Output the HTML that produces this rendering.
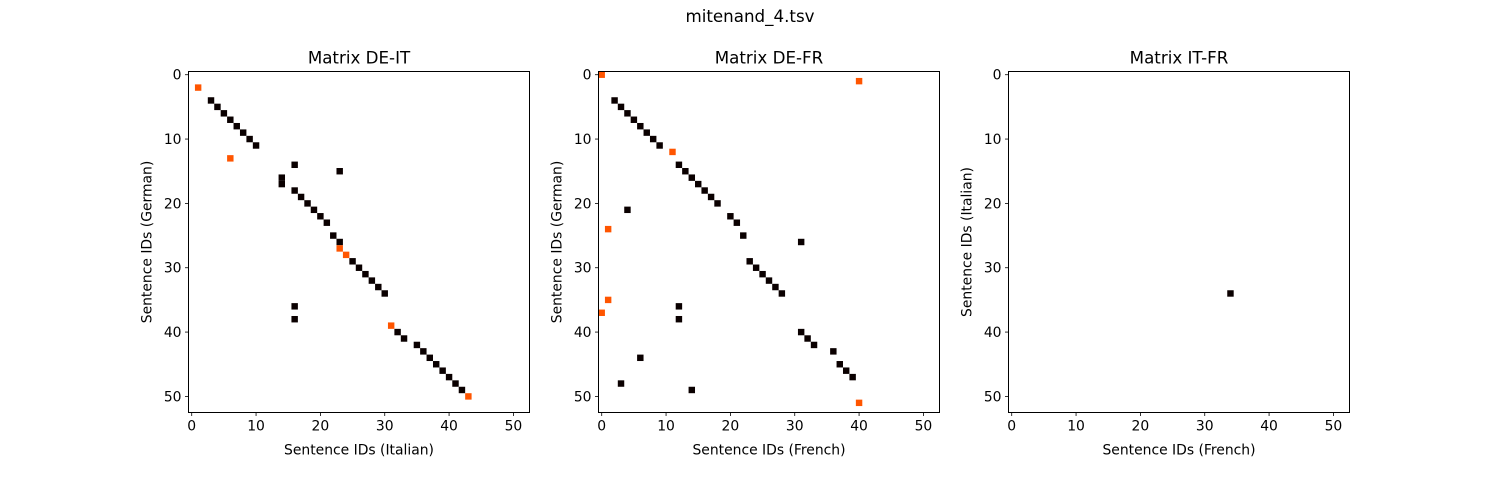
<!DOCTYPE html>
<html><head><meta charset="utf-8"><style>
body{margin:0;background:#fff}
svg text{font-family:"DejaVu Sans","Liberation Sans",sans-serif;fill:#000}
</style></head><body>
<svg id="fig" width="1500" height="480" xmlns="http://www.w3.org/2000/svg">
<rect width="1500" height="480" fill="#fff"/>
<text x="750" y="22" font-size="16.7" text-anchor="middle">mitenand_4.tsv</text>
</svg>
<script>
// Panel 1: DE-IT (x = Italian, y = German)
const deitOrangeX=[1,6,23,24,31,43];
const deitOrangeY=[2,13,27,28,39,50];
const deitBlackX=[3,4,5,6,7,8,9,10,16,23,14,14,16,17,18,19,20,21,22,23,25,26,27,28,29,30,16,16,32,33,35,36,37,38,39,40,41,42];
const deitBlackY=[4,5,6,7,8,9,10,11,14,15,16,17,18,19,20,21,22,23,25,26,29,30,31,32,33,34,36,38,40,41,42,43,44,45,46,47,48,49];
// Panel 2: DE-FR
const defrOrangeX=[0,40,11,1,1,0,40];
const defrOrangeY=[0,1,12,24,35,37,51];
const defrBlackX=[2,3,4,5,6,7,8,9,12,13,14,15,16,17,18,4,20,21,22,31,23,24,25,26,27,28,12,12,31,32,33,36,37,38,39,6,3,14];
const defrBlackY=[4,5,6,7,8,9,10,11,14,15,16,17,18,19,20,21,22,23,25,26,29,30,31,32,33,34,36,38,40,41,42,43,45,46,47,44,48,49];
// Panel 3: IT-FR
const itfrOrangeX=[];
const itfrOrangeY=[];
const itfrBlackX=[34];
const itfrBlackY=[34];
const ticks=[0,10,20,30,40,50];
const tickLabels=["0","10","20","30","40","50"];

const NS="http://www.w3.org/2000/svg";
const svg=document.getElementById('fig');
function mk(tag,attrs,parent){const e=document.createElementNS(NS,tag);for(const k in attrs)e.setAttribute(k,attrs[k]);(parent||svg).appendChild(e);return e;}
const panels=[
 {left:188.5,title:"Matrix DE-IT",xl:"Sentence IDs (Italian)",yl:"Sentence IDs (German)",ox:deitOrangeX,oy:deitOrangeY,bx:deitBlackX,by:deitBlackY,key:"de-it"},
 {left:598.5,title:"Matrix DE-FR",xl:"Sentence IDs (French)",yl:"Sentence IDs (German)",ox:defrOrangeX,oy:defrOrangeY,bx:defrBlackX,by:defrBlackY,key:"de-fr"},
 {left:1008.5,title:"Matrix IT-FR",xl:"Sentence IDs (French)",yl:"Sentence IDs (Italian)",ox:itfrOrangeX,oy:itfrOrangeY,bx:itfrBlackX,by:itfrBlackY,key:"it-fr"}
];
const axTop=71.5,size=341,lo=-0.5,hi=52.5;
panels.forEach(p=>{
 const g=mk('g',{});
 
 
 const sx=v=>p.left+(v-lo)/(hi-lo)*size;
 const sy=v=>axTop+(v-lo)/(hi-lo)*size;
 const cw=size/(hi-lo);
 function cell(x,y,col){
  const r=mk('rect',{x:sx(x-0.5),y:sy(y-0.5),width:cw,height:cw,fill:col},g);
  
  
 }
 p.bx.forEach((x,i)=>cell(x,p.by[i],'#0a0000'));
 p.ox.forEach((x,i)=>cell(x,p.oy[i],'#ff5500'));
 const fr=mk('rect',{x:p.left,y:axTop,width:size,height:size,fill:'none',stroke:'#000','stroke-width':1},g);
 
 
 ticks.forEach((t,i)=>{
  mk('line',{x1:sx(t),x2:sx(t),y1:axTop+size,y2:axTop+size+3.5,stroke:'#000','stroke-width':0.8},g);
  const tx=mk('text',{x:sx(t),y:axTop+size+18,'font-size':13.9,'text-anchor':'middle'},g);
  tx.textContent=tickLabels[i];
  
  
  mk('line',{x1:p.left,x2:p.left-3.5,y1:sy(t),y2:sy(t),stroke:'#000','stroke-width':0.8},g);
  const ty=mk('text',{x:p.left-7,y:sy(t)+5,'font-size':13.9,'text-anchor':'end'},g);
  ty.textContent=tickLabels[i];
  
  
 });
 const t=mk('text',{x:p.left+size/2,y:axTop-8,'font-size':16.7,'text-anchor':'middle'},g);
 t.textContent=p.title;
 
 
 const xl=mk('text',{x:p.left+size/2,y:axTop+size+42,'font-size':13.9,'text-anchor':'middle'},g);
 xl.textContent=p.xl;
 
 
 const cx=p.left-37,cy=axTop+size/2;
 const yl=mk('text',{x:cx,y:cy,'font-size':13.9,'text-anchor':'middle',transform:'rotate(-90 '+cx+' '+cy+')'},g);
 yl.textContent=p.yl;
 
 
});
</script>
</body></html>
